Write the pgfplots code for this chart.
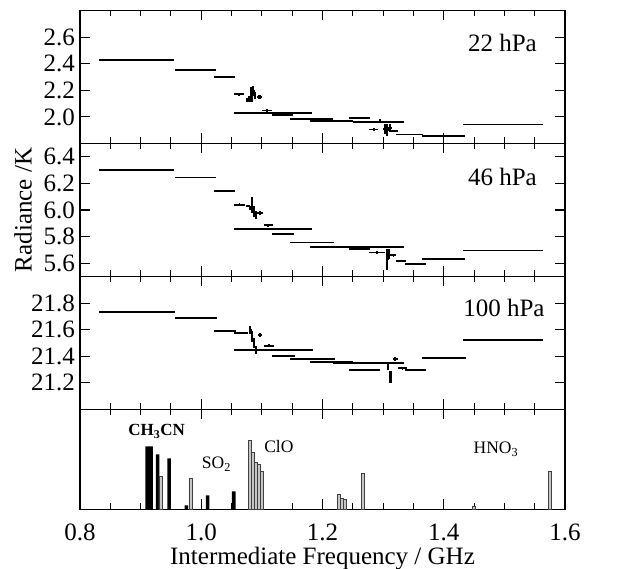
\documentclass[border=0pt]{standalone}
\usepackage{pgfplots}
\pgfplotsset{compat=1.18}
\usepackage{fontspec}
\setmainfont{Liberation Serif}

\pgfplotsset{
  /pgf/number format/assume math mode=true,
  panel/.style={
    scale only axis, width=485pt, height=133pt,
    xmin=0.8, xmax=1.6,
    xtick={0.8,1.0,1.2,1.4,1.6}, minor x tick num=3,
    tick align=inside, major tick length=10pt, minor tick length=6pt,
    axis line style={line width=1.2pt},
    tick style={line width=1.1pt, black},
    tick label style={font=\fontsize{25}{29}\selectfont},
    label style={font=\fontsize{25}{29}\selectfont},
    yticklabel style={inner xsep=0pt, xshift=-5pt, /pgf/number format/fixed, /pgf/number format/fixed zerofill, /pgf/number format/precision=1},
    xticklabel style={anchor=base, inner sep=0.5pt, yshift=-31.5pt, /pgf/number format/fixed, /pgf/number format/fixed zerofill, /pgf/number format/precision=1},
    scaled ticks=false,
  },
  seg/.style={mark=none, draw=none, error bars/.cd, x dir=both, x explicit, y dir=both, y explicit, error mark=none, error bar style={draw=black, line width=1.8pt}},
  blob/.style={mark=none, draw=none, error bars/.cd, x dir=both, x explicit, y dir=both, y explicit, error mark=none, error bar style={draw=black, line width=2.2pt}},
}

\begin{document}
\begin{tikzpicture}[font=\fontsize{25}{29}\selectfont]
\useasboundingbox (0pt,0pt) rectangle (620pt,569pt);

% ---------------- 22 hPa ----------------
\begin{axis}[panel, at={(80pt,425.5pt)}, anchor=south west,
  ymin=1.8, ymax=2.8, ytick={2.0,2.2,2.4,2.6}, xticklabels=\empty]
\addplot[seg] table[x=x, y=y, x error=ex, y error=ey] {
x y ex ey
0.8935 2.425 0.0615 0
0.9905 2.355 0.0335 0
1.0385 2.300 0.0175 0
1.0620 2.170 0.0080 0.012
1.1180 2.030 0.0640 0
1.1090 2.048 0.0080 0.010
1.1340 2.015 0.0180 0
1.1825 1.983 0.0355 0
1.2150 1.968 0.0360 0
1.2610 1.990 0.0180 0.008
1.2930 1.962 0.0420 0
1.2845 1.905 0.0075 0.010
1.3190 1.895 0.0060 0.010
1.3440 1.868 0.0220 0
1.3995 1.857 0.0355 0
1.4970 1.943 0.0660 0
};
\addplot[blob] table[x=x, y=y, x error=ex, y error=ey] {
x y ex ey
1.075 2.130 0.002 0.015
1.079 2.135 0.002 0.020
1.083 2.170 0.002 0.055
1.086 2.195 0.002 0.035
1.089 2.160 0.002 0.025
1.096 2.150 0.004 0.015
1.295 1.970 0.002 0.012
1.303 1.910 0.003 0.040
1.307 1.905 0.003 0.045
1.311 1.915 0.003 0.030
};
\node at (axis description cs:0.871,0.755) {22 hPa};
\end{axis}

% ---------------- 46 hPa ----------------
\begin{axis}[panel, at={(80pt,292.5pt)}, anchor=south west,
  ymin=5.5, ymax=6.5, ytick={5.6,5.8,6.0,6.2,6.4}, xticklabels=\empty,
  ylabel={Radiance /K},
  ylabel style={at={(axis description cs:-0.1175,0.5)}, anchor=center}]
\addplot[seg] table[x=x, y=y, x error=ex, y error=ey] {
x y ex ey
0.8935 6.300 0.0615 0
0.9905 6.245 0.0335 0
1.0385 6.145 0.0175 0
1.0630 6.040 0.0090 0.010
1.1185 5.855 0.0645 0
1.1105 5.885 0.0075 0.010
1.1345 5.817 0.0185 0
1.1830 5.755 0.0360 0
1.2570 5.720 0.0780 0
1.2610 5.708 0.0180 0.006
1.2900 5.680 0.0130 0.010
1.3170 5.660 0.0050 0.012
1.3295 5.617 0.0075 0
1.3535 5.593 0.0175 0
1.3995 5.630 0.0355 0
1.4975 5.695 0.0665 0
};
\addplot[blob] table[x=x, y=y, x error=ex, y error=ey] {
x y ex ey
1.077 6.030 0.003 0.010
1.081 6.015 0.002 0.015
1.084 6.040 0.002 0.060
1.087 5.990 0.002 0.040
1.090 5.960 0.002 0.030
1.097 5.980 0.005 0.015
1.307 5.630 0.002 0.080
1.310 5.670 0.002 0.040
};
\node at (axis description cs:0.871,0.752) {46 hPa};
\end{axis}

% ---------------- 100 hPa ----------------
\begin{axis}[panel, at={(80pt,159.5pt)}, anchor=south west,
  ymin=21.0, ymax=22.0, ytick={21.2,21.4,21.6,21.8}, xticklabels=\empty]
\addplot[seg] table[x=x, y=y, x error=ex, y error=ey] {
x y ex ey
0.8945 21.736 0.0625 0
0.9915 21.690 0.0345 0
1.0390 21.590 0.0180 0
1.0655 21.575 0.0115 0.010
1.1190 21.445 0.0650 0
1.1120 21.480 0.0080 0.010
1.1355 21.405 0.0195 0
1.1835 21.380 0.0365 0
1.2150 21.360 0.0360 0
1.2765 21.350 0.0585 0
1.2695 21.295 0.0255 0.008
1.2975 21.350 0.0025 0.010
1.3200 21.380 0.0040 0.012
1.3320 21.310 0.0080 0.010
1.3535 21.295 0.0175 0
1.4000 21.385 0.0360 0
1.4975 21.520 0.0665 0
};
\addplot[blob] table[x=x, y=y, x error=ex, y error=ey] {
x y ex ey
1.081 21.600 0.002 0.030
1.084 21.550 0.002 0.040
1.087 21.500 0.002 0.040
1.090 21.450 0.002 0.030
1.097 21.560 0.003 0.015
1.308 21.325 0.002 0.030
1.312 21.245 0.003 0.045
};
\node at (axis description cs:0.874,0.767) {100 hPa};
\end{axis}

% ---------------- spectral lines ----------------
\begin{axis}[panel, at={(80pt,59.5pt)}, anchor=south west, height=100pt,
  ymin=0, ymax=1, ytick=\empty,
  xlabel={Intermediate Frequency / GHz},
  xlabel style={at={(axis description cs:0.5,0)}, anchor=base, inner sep=0.5pt, yshift=-55pt}]
\addplot[ybar, bar width=0.006, bar shift=0pt, fill=black, draw=none] coordinates {
(0.911,0.63) (0.917,0.63) (0.928,0.55) (0.947,0.51) (0.9755,0.04) (1.0105,0.14) (1.0535,0.18)
};
\addplot[ybar, bar width=0.0048, bar shift=0pt, fill=gray!45, draw=black!75, line width=0.5pt] coordinates {
(0.9325,0.33) (0.982,0.31) (1.0805,0.69) (1.0853,0.57) (1.0901,0.47) (1.0949,0.45) (1.0997,0.38)
(1.2265,0.15) (1.2313,0.11) (1.237,0.10) (1.267,0.36) (1.45,0.03) (1.5745,0.38)
};
\node[font=\fontsize{17}{20}\selectfont\bfseries] at (axis cs:0.9265,0.78) {CH\textsubscript{3}CN};
\node[font=\fontsize{17.5}{20}\selectfont] at (axis cs:1.025,0.45) {SO\textsubscript{2}};
\node[font=\fontsize{17.5}{20}\selectfont] at (axis cs:1.128,0.63) {ClO};
\node[font=\fontsize{17.5}{20}\selectfont] at (axis cs:1.486,0.60) {HNO\textsubscript{3}};
\end{axis}
\end{tikzpicture}
\end{document}
